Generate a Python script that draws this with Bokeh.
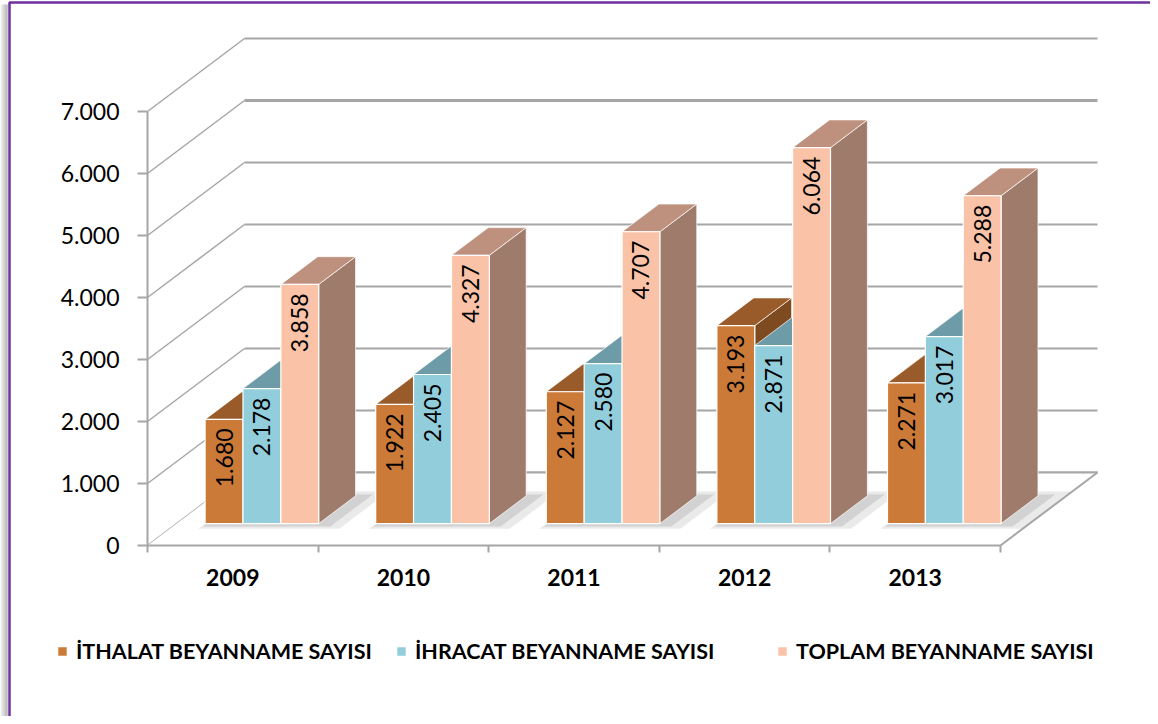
import numpy as np
from bokeh.plotting import figure
from bokeh.models import Range1d, LinearAxis, FixedTicker, Legend, LegendItem
from bokeh.core.properties import value
from bokeh.embed import file_html
from bokeh.resources import INLINE

# ---------------- data ----------------
years = ["2009", "2010", "2011", "2012", "2013"]
ithalat = [1680, 1922, 2127, 3193, 2271]
ihracat = [2178, 2405, 2580, 2871, 3017]
toplam = [3858, 4327, 4707, 6064, 5288]
series_names = ["İTHALAT BEYANNAME SAYISI", "İHRACAT BEYANNAME SAYISI", "TOPLAM BEYANNAME SAYISI"]
y_ticks = [0, 1000, 2000, 3000, 4000, 5000, 6000, 7000]

# ---------------- styles ----------------
front_cols = ["#CC7A37", "#92CDDC", "#FAC3A8"]
top_cols = ["#9A5B2A", "#6E9BA8", "#BE917E"]
side_cols = ["#7E4A20", "#5E8794", "#9F7B6B"]
grid_col = "#A6A6A6"
FONT = "Lato"

W, H = 1150, 716
PX_X = 170.6      # pixels per category
PX_Y = 0.062      # pixels per value unit
X0, Y0 = 147, 545  # pixel position of the front origin


def px2x(px):
    return (px - X0) / PX_X


def py2y(py):
    return (Y0 - py) / PX_Y


DX = 97 / PX_X     # depth vector (full floor depth) in data units
DY = 73 / PX_Y
F0, F1 = 0.30, 0.68  # bar depth range
BW = 0.222           # bar width
G0 = 0.5 - 1.5 * BW  # group start inside category

p = figure(width=W, height=H, output_backend="svg", toolbar_location=None,
           x_range=Range1d(px2x(0), px2x(W)),
           y_range=Range1d(py2y(H), py2y(0)),
           min_border=0, x_axis_type=None, y_axis_type=None)
p.outline_line_color = None
p.background_fill_color = "white"
p.border_fill_color = "white"

ncat = len(years)

# outer shadow + purple border
for j, c in enumerate(["#F2F2F2", "#E6E6E6", "#DADADA", "#CFCFCF", "#C4C4C4", "#B8B8B8", "#ACACAC"]):
    p.line(x=[px2x(j + 0.5), px2x(j + 0.5)], y=[py2y(4), py2y(H)], line_color=c, line_width=1.2)
p.line(x=[px2x(9), px2x(9), px2x(W)], y=[py2y(H), py2y(2), py2y(2)],
       line_color="#7030A0", line_width=2.5)

# back wall gridlines
p.multi_line(xs=[[DX, ncat + DX] for v in y_ticks],
             ys=[[v + DY, v + DY] for v in y_ticks],
             line_color=grid_col,
             line_width=[2 if v != 6000 else 3 for v in y_ticks])
# left wall gridlines
p.multi_line(xs=[[0, DX] for v in y_ticks],
             ys=[[v, v + DY] for v in y_ticks],
             line_color=grid_col, line_width=1.5)

# floor
p.patch(x=[0, ncat, ncat + DX, DX], y=[0, 0, DY, DY],
        fill_color="white", line_color=None)
p.line(x=[ncat, ncat + DX], y=[0, DY], line_color=grid_col, line_width=2)
p.line(x=[DX, ncat + DX], y=[DY, DY], line_color=grid_col, line_width=2)

# soft shadows under bar groups
for (ex_l, ex_r, dd0, dd1, alpha) in [(0.0, 0.16, 0.07, 0.06, 0.18), (-0.01, 0.09, 0.04, 0.02, 0.25)]:
    sh_x, sh_y = [], []
    for i in range(ncat):
        xl = i + G0 - ex_l
        xr = i + G0 + 3 * BW + ex_r
        d0, d1 = F0 - dd0, F1 + dd1
        sh_x.append([xl + d0 * DX, xr + d0 * DX, xr + d1 * DX, xl + d1 * DX])
        sh_y.append([d0 * DY, d0 * DY, d1 * DY, d1 * DY])
    p.patches(xs=sh_x, ys=sh_y, fill_color="#8C8C8C", fill_alpha=alpha, line_color=None)

# bars
front_renderers = []
all_vals = [ithalat, ihracat, toplam]
for k, vals in enumerate(all_vals):
    fx, fy, tx, ty, sx, sy = [], [], [], [], [], []
    for i, h in enumerate(vals):
        xl = i + G0 + k * BW
        xr = xl + BW
        a0x, a0y = F0 * DX, F0 * DY
        a1x, a1y = F1 * DX, F1 * DY
        fx.append([xl + a0x, xr + a0x, xr + a0x, xl + a0x])
        fy.append([a0y, a0y, h + a0y, h + a0y])
        tx.append([xl + a0x, xr + a0x, xr + a1x, xl + a1x])
        ty.append([h + a0y, h + a0y, h + a1y, h + a1y])
        sx.append([xr + a0x, xr + a1x, xr + a1x, xr + a0x])
        sy.append([a0y, a1y, h + a1y, h + a0y])
    p.patches(xs=sx, ys=sy, fill_color=side_cols[k], line_color="white", line_width=1, line_alpha=0.7)
    p.patches(xs=tx, ys=ty, fill_color=top_cols[k], line_color="white", line_width=1, line_alpha=0.7)
    r = p.patches(xs=fx, ys=fy, fill_color=front_cols[k], line_color="white", line_width=1.2)
    front_renderers.append(r)

# value labels (rotated, inside end)
lab_x, lab_y, lab_t = [], [], []
for k, vals in enumerate(all_vals):
    for i, h in enumerate(vals):
        lab_x.append(i + G0 + k * BW + BW / 2 + F0 * DX)
        lab_y.append(h + F0 * DY - 9 / PX_Y)
        lab_t.append(f"{h:,}".replace(",", "."))
p.text(x=lab_x, y=lab_y, text=lab_t, angle=np.pi / 2, text_align="right",
       text_baseline="middle", text_font=value(FONT), text_font_size="23px",
       text_color="black")

# y axis (front)
yax = LinearAxis(fixed_location=0, ticker=FixedTicker(ticks=y_ticks), bounds=(0, y_ticks[-1]))
yax.major_label_overrides = {v: f"{v:,}".replace(",", ".") for v in y_ticks}
yax.major_tick_out = 10
yax.major_tick_in = 0
yax.minor_tick_out = 0
yax.minor_tick_in = 0
yax.axis_line_color = grid_col
yax.axis_line_width = 2
yax.major_tick_line_color = grid_col
yax.major_tick_line_width = 2
yax.major_label_text_font = FONT
yax.major_label_text_font_size = "23px"
yax.major_label_text_color = "black"
yax.major_label_standoff = 18
p.add_layout(yax, "left")

# x axis (front)
xax = LinearAxis(fixed_location=0,
                 ticker=FixedTicker(ticks=[i + 0.5 for i in range(ncat)],
                                    minor_ticks=list(range(ncat + 1))),
                 bounds=(0, ncat))
xax.major_label_overrides = {i + 0.5: y for i, y in enumerate(years)}
xax.major_tick_out = 0
xax.major_tick_in = 0
xax.minor_tick_out = 7
xax.minor_tick_in = 0
xax.minor_tick_line_color = grid_col
xax.minor_tick_line_width = 2
xax.axis_line_color = grid_col
xax.axis_line_width = 2
xax.major_label_text_font = FONT
xax.major_label_text_font_style = "bold"
xax.major_label_text_font_size = "23px"
xax.major_label_text_color = "black"
xax.major_label_standoff = 16
p.add_layout(xax, "below")

# legend: one entry per box, placed like the original
leg_left = [56, 395, 776]
for k in range(3):
    legend = Legend(items=[LegendItem(label=series_names[k], renderers=[front_renderers[k]])],
                    orientation="horizontal", location=(leg_left[k], 52),
                    glyph_width=12, glyph_height=12, label_standoff=8,
                    padding=0, margin=0, border_line_color=None,
                    background_fill_alpha=0,
                    label_text_font=FONT, label_text_font_style="bold",
                    label_text_font_size="21.5px", label_text_color="black")
    p.add_layout(legend, "center")

open("out.html", "w").write(file_html(p, INLINE))
